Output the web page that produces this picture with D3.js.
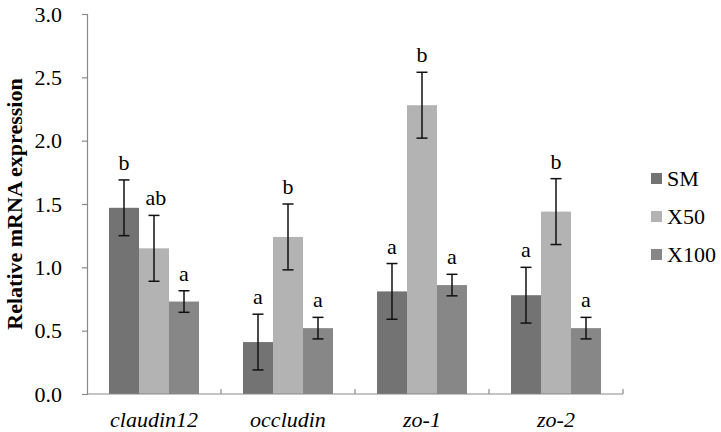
<!DOCTYPE html>
<html>
<head>
<meta charset="utf-8">
<script src="https://cdn.jsdelivr.net/npm/d3@7"></script>
<style>
  html, body { margin: 0; padding: 0; background: #fff; }
  svg, svg text { font-family: "Liberation Serif", "Times New Roman", serif; }
  svg { display: block; }
</style>
</head>
<body>
<div id="chart"></div>
<script>
// ---- Data ----
const categories = ["claudin12", "occludin", "zo-1", "zo-2"];
const seriesNames = ["SM", "X50", "X100"];
const smValues   = [1.47, 0.41, 0.81, 0.78];
const x50Values  = [1.15, 1.24, 2.28, 1.44];
const x100Values = [0.73, 0.52, 0.86, 0.52];
const smErrors   = [0.22, 0.22, 0.22, 0.22];
const x50Errors  = [0.26, 0.26, 0.26, 0.26];
const x100Errors = [0.085, 0.085, 0.085, 0.085];
const smLetters   = ["b", "a", "a", "a"];
const x50Letters  = ["ab", "b", "b", "b"];
const x100Letters = ["a", "a", "a", "a"];
const yTicks = [0, 0.5, 1.0, 1.5, 2.0, 2.5, 3.0];
const colors = ["#737373", "#b3b3b3", "#878787"];

(function () {
const seriesValues = [smValues, x50Values, x100Values];
const seriesErrors = [smErrors, x50Errors, x100Errors];
const seriesLetters = [smLetters, x50Letters, x100Letters];

const W = 721, H = 432;
const mLeft = 87, mRight = 623, mTop = 14, mBottom = 394;

const svg = d3.select("#chart").append("svg").attr("width", W).attr("height", H);

const y = d3.scaleLinear().domain([0, 3]).range([mBottom, mTop]);
const x = d3.scaleBand().domain(categories).range([mLeft, mRight]).paddingInner(0).paddingOuter(0);
const xs = d3.scaleBand().domain(seriesNames).range([0, x.bandwidth()]).paddingInner(0).paddingOuter(0.733);

const axisColor = "#8a8a8a";
const fs = "22px";

// Y axis
const yAxis = svg.append("g").attr("transform", `translate(${mLeft},0)`)
  .call(d3.axisLeft(y).tickValues(yTicks).tickFormat(d3.format(".1f")).tickSize(5).tickPadding(20));
yAxis.attr("font-family", null).attr("font-size", null);
yAxis.select(".domain").attr("stroke", axisColor).attr("stroke-width", 1.2);
yAxis.selectAll(".tick line").attr("stroke", axisColor).attr("stroke-width", 1.2);
yAxis.selectAll(".tick text").attr("fill", "#000").style("font-size", fs);

// Bars
const data = [];
categories.forEach((c, i) => {
  seriesNames.forEach((s, j) => {
    data.push({ c, s, j, v: seriesValues[j][i], e: seriesErrors[j][i], l: seriesLetters[j][i] });
  });
});

svg.append("g").selectAll("rect").data(data).join("rect")
  .attr("x", d => x(d.c) + xs(d.s))
  .attr("width", xs.bandwidth())
  .attr("y", d => y(d.v))
  .attr("height", d => y(0) - y(d.v))
  .attr("fill", d => colors[d.j]);

// X axis (ticks at category boundaries, inward)
const xAxisG = svg.append("g");
xAxisG.append("line").attr("x1", mLeft).attr("x2", mRight).attr("y1", mBottom).attr("y2", mBottom)
  .attr("stroke", axisColor).attr("stroke-width", 1.2);
const boundaries = categories.map(c => x(c) + x.bandwidth());
xAxisG.selectAll("line.tk").data(boundaries).join("line").attr("class", "tk")
  .attr("x1", d => d).attr("x2", d => d).attr("y1", mBottom).attr("y2", mBottom - 5)
  .attr("stroke", axisColor).attr("stroke-width", 1.2);

xAxisG.selectAll("text").data(categories).join("text")
  .attr("x", d => x(d) + x.bandwidth() / 2)
  .attr("y", 427)
  .attr("text-anchor", "middle")
  .style("font-size", fs).style("font-style", "italic")
  .text(d => d);

// Error bars
const eg = svg.append("g").attr("stroke", "#111").attr("stroke-width", 1.5);
const cx = d => x(d.c) + xs(d.s) + xs.bandwidth() / 2;
eg.selectAll("line.v").data(data).join("line").attr("class", "v")
  .attr("x1", cx).attr("x2", cx).attr("y1", d => y(d.v + d.e)).attr("y2", d => y(d.v - d.e));
eg.selectAll("line.t").data(data).join("line").attr("class", "t")
  .attr("x1", d => cx(d) - 5.5).attr("x2", d => cx(d) + 5.5).attr("y1", d => y(d.v + d.e)).attr("y2", d => y(d.v + d.e));
eg.selectAll("line.b").data(data).join("line").attr("class", "b")
  .attr("x1", d => cx(d) - 5.5).attr("x2", d => cx(d) + 5.5).attr("y1", d => y(d.v - d.e)).attr("y2", d => y(d.v - d.e));

// Letters
svg.append("g").selectAll("text").data(data).join("text")
  .attr("x", d => cx(d) + (d.l === "ab" ? 2 : 0))
  .attr("y", d => y(d.v + d.e) - 10)
  .attr("text-anchor", "middle")
  .style("font-size", fs)
  .text(d => d.l);

// Y title
svg.append("text")
  .attr("transform", `translate(22, 204) rotate(-90)`)
  .attr("text-anchor", "middle")
  .style("font-size", fs).style("font-weight", "bold")
  .text("Relative mRNA expression");

// Legend
const lg = svg.append("g").selectAll("g").data(seriesNames).join("g")
  .attr("transform", (d, i) => `translate(651, ${173 + i * 38})`);
lg.append("rect").attr("width", 11).attr("height", 11).attr("fill", (d, i) => colors[i]);
lg.append("text").attr("x", 16).attr("y", 13).style("font-size", fs).text(d => d);
})();
</script>
</body>
</html>
